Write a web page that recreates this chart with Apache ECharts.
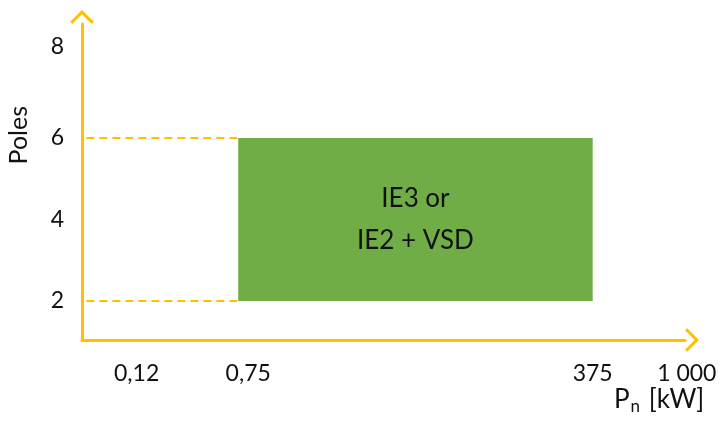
<!DOCTYPE html>
<html>
<head>
<meta charset="utf-8">
<script src="https://cdn.jsdelivr.net/npm/echarts@6/dist/echarts.min.js"></script>
<style>
  html, body { margin: 0; padding: 0; background: #fff; }
  #main { width: 720px; height: 423px; }
</style>
</head>
<body>
<div id="main"></div>
<script>
// schematic x axis: tick values and where they sit on the axis
var pnTicks = [0.12, 0.75, 375, 1000];
var pnTickLabels = ['0,12', '0,75', '375', '1 000'];
var pnTickPos = [1, 2.86, 9.35, 11];
var poleTicks = [2, 4, 6, 8];

// region: IE3 or IE2 + VSD
var boxPn = [0.75, 375];
var boxPoles = [2, 6];
var boxText = ['IE3 or', 'IE2 + VSD'];

var gold = '#FFC000';
var green = '#70AD47';
var font = 'Lato, "Open Sans", sans-serif';

// pn value -> position on the schematic axis (piecewise between ticks)
function pnPos(v) {
    for (var i = 0; i < pnTicks.length - 1; i++) {
        if (v <= pnTicks[i + 1]) {
            var t = (v - pnTicks[i]) / (pnTicks[i + 1] - pnTicks[i]);
            return pnTickPos[i] + t * (pnTickPos[i + 1] - pnTickPos[i]);
        }
    }
    return pnTickPos[pnTickPos.length - 1];
}

var chevron = 'path://M12 0 L24 12 L21.8 14.2 L12 4.4 L2.2 14.2 L0 12 Z';
var labelStyle = { color: '#111', fontSize: 23, fontFamily: font };

var chartDom = document.getElementById('main');
var myChart = echarts.init(chartDom, null, { renderer: 'canvas' });

var option = {
    animation: false,
    grid: { left: 82, right: 35, top: 24, bottom: 83 },
    xAxis: {
        type: 'value',
        min: 0,
        max: 11.04,
        splitLine: { show: false },
        axisTick: { show: false },
        axisLine: {
            lineStyle: { color: gold, width: 3 },
            symbol: ['none', chevron],
            symbolSize: [24, 14],
            symbolOffset: [0, 7]
        },
        axisLabel: {
            customValues: pnTickPos,
            formatter: function (v) {
                var i = pnTickPos.indexOf(v);
                if (i < 0) return '';
                // labels in the source sit a little right of their tick
                return i === 1 ? '{r|' + pnTickLabels[i] + '}'
                    : i === 3 ? '{s|' + pnTickLabels[i] + '}'
                    : pnTickLabels[i];
            },
            rich: {
                r: Object.assign({ padding: [0, 0, 0, 20] }, labelStyle),
                s: Object.assign({ padding: [0, 0, 0, 8] }, labelStyle)
            },
            color: '#111',
            fontSize: 23,
            fontFamily: font,
            margin: 22
        }
    },
    yAxis: {
        type: 'value',
        min: 1.04,
        max: 8.8,
        splitLine: { show: false },
        axisTick: { show: false },
        axisLine: {
            lineStyle: { color: gold, width: 3 },
            symbol: ['none', chevron],
            symbolSize: [24, 14],
            symbolOffset: [0, 7]
        },
        axisLabel: {
            customValues: poleTicks,
            formatter: function (v) {
                return v === 8 ? '{u|8}' : String(v);
            },
            rich: {
                u: Object.assign({ padding: [0, 0, 20, 0] }, labelStyle)
            },
            color: '#111',
            fontSize: 23,
            fontFamily: font,
            margin: 18
        }
    },
    graphic: [
        {
            type: 'text',
            left: 6,
            top: 106,
            rotation: Math.PI / 2,
            style: { text: 'Poles', fill: '#111', font: '25px ' + font }
        },
        {
            type: 'text',
            left: 614,
            top: 387,
            style: {
                text: '{p|P}{n|n}{p| [kW]}',
                rich: {
                    p: { fontSize: 26, fontFamily: font, fill: '#111', verticalAlign: 'bottom' },
                    n: { fontSize: 17, fontFamily: font, fill: '#111', padding: [0, 2, -14, 1] }
                }
            }
        }
    ],
    series: [
        {
            type: 'line',
            symbol: 'none',
            lineStyle: { color: gold, width: 2, type: [8, 5] },
            data: [[0.08, boxPoles[1]], [pnPos(boxPn[0]), boxPoles[1]]]
        },
        {
            type: 'line',
            symbol: 'none',
            lineStyle: { color: gold, width: 2, type: [8, 5] },
            data: [[0.08, boxPoles[0]], [pnPos(boxPn[0]), boxPoles[0]]]
        },
        {
            type: 'custom',
            data: [[pnPos(boxPn[0]), boxPoles[0], pnPos(boxPn[1]), boxPoles[1]]],
            renderItem: function (params, api) {
                var p0 = api.coord([api.value(0), api.value(3)]);
                var p1 = api.coord([api.value(2), api.value(1)]);
                return {
                    type: 'group',
                    children: [
                        {
                            type: 'rect',
                            shape: { x: p0[0], y: p0[1], width: p1[0] - p0[0], height: p1[1] - p0[1] },
                            style: { fill: green }
                        },
                        {
                            type: 'text',
                            x: (p0[0] + p1[0]) / 2,
                            y: (p0[1] + p1[1]) / 2,
                            style: {
                                text: boxText.join('\n'),
                                fill: '#111',
                                font: '26px ' + font,
                                lineHeight: 42,
                                align: 'center',
                                verticalAlign: 'middle'
                            }
                        }
                    ]
                };
            }
        }
    ]
};

option && myChart.setOption(option);
</script>
</body>
</html>
